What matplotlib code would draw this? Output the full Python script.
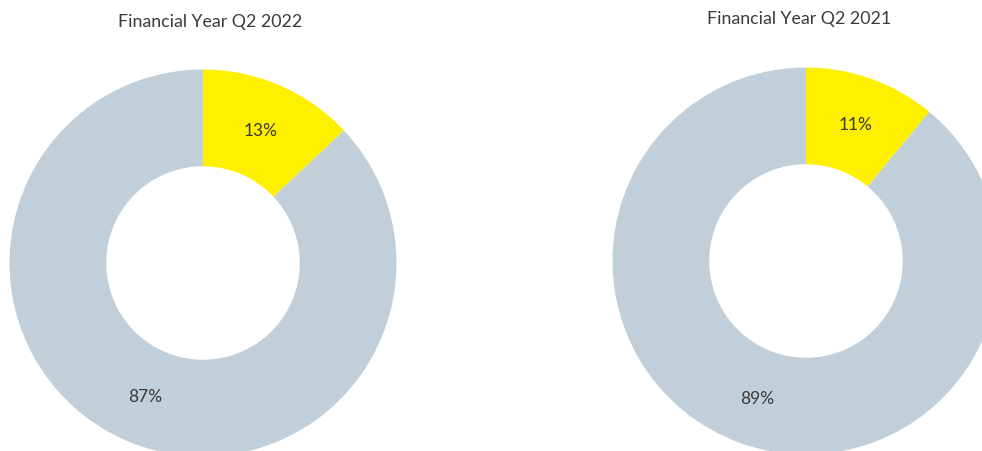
import matplotlib.pyplot as plt

# data
titles = ["Financial Year Q2 2022", "Financial Year Q2 2021"]
shares_2022 = [13, 87]
shares_2021 = [11, 89]
colors = ["#FFF000", "#C1CFDA"]

plt.rcParams['font.family'] = ['Lato', 'DejaVu Sans']

W, H = 982, 452
fig = plt.figure(figsize=(W / 100, H / 100), dpi=100)

R = 193.5  # outer radius in px


def donut(cx, cy, values, title, title_x, title_y):
    # axes placed so the pie fills exactly the px box around (cx, cy)
    ax = fig.add_axes([(cx - R) / W, (H - cy - R) / H, 2 * R / W, 2 * R / H])
    ax.pie(values, colors=colors, startangle=90, counterclock=False,
           radius=1, wedgeprops=dict(width=0.5, linewidth=0),
           autopct='%d%%', pctdistance=0.75,
           textprops=dict(fontsize=12.5, color='#3a3a3a'))
    ax.set_xlim(-1, 1)
    ax.set_ylim(-1, 1)
    ax.set_aspect('equal')
    ax.axis('off')
    fig.text(title_x / W, 1 - title_y / H, title, ha='center', va='center',
             fontsize=12.8, color='#3a3a3a')


donut(203, 264, shares_2022, titles[0], 210, 22)
donut(806, 262, shares_2021, titles[1], 799, 19)

fig.savefig("out.png", dpi=100)
